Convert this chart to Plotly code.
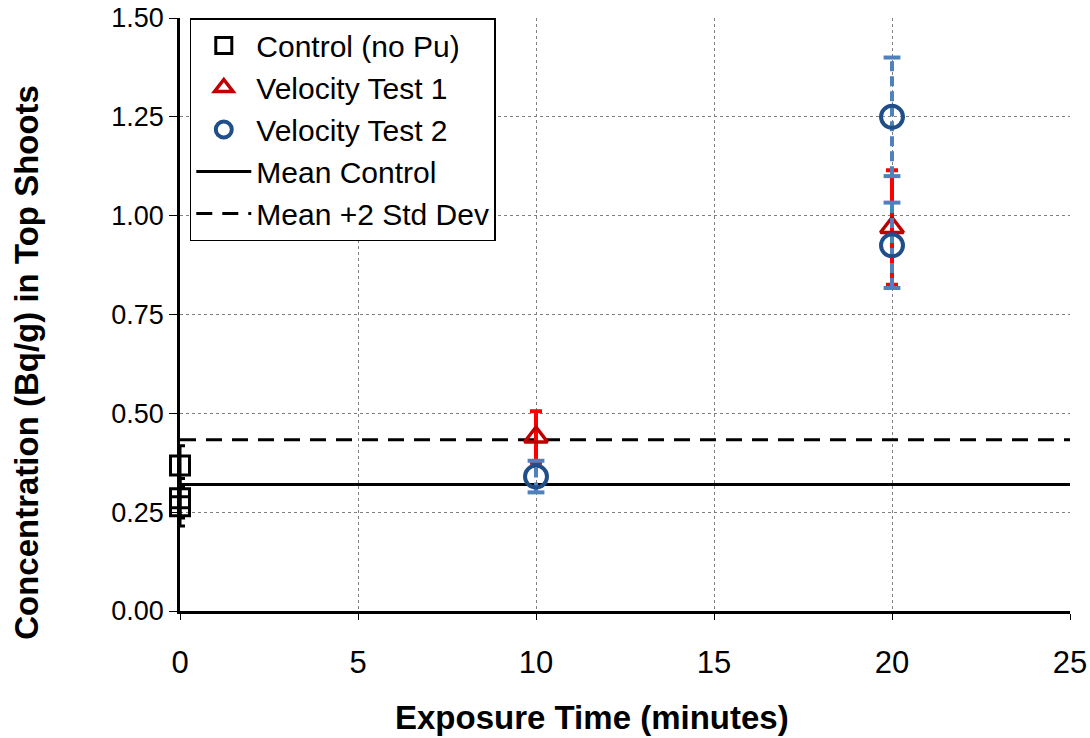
import plotly.graph_objects as go

# ---- data ----
control_x = [0, 0, 0]
control_y = [0.368, 0.285, 0.265]
control_err = [0.05, 0.05, 0.05]

vt1_x = [10, 20]
vt1_y = [0.44, 0.97]
vt1_err = [0.065, 0.145]

vt2_x = [10, 20, 20]
vt2_y = [0.34, 1.25, 0.925]
vt2_err = [0.04, 0.15, 0.108]

mean_control = 0.32
mean_plus_2sd = 0.433

x_range = [0, 25]
y_range = [0, 1.5]
x_ticks = [0, 5, 10, 15, 20, 25]
y_ticks = [0, 0.25, 0.5, 0.75, 1.0, 1.25, 1.5]

x_title = "Exposure Time (minutes)"
y_title = "Concentration (Bq/g) in Top Shoots"

FONT = "Liberation Sans, Arial, sans-serif"
BLUE_ERR = "#4F81BD"
BLUE_MK = "#1F4E89"
RED_ERR = "#FF0000"
RED_MK = "#C00000"

fig = go.Figure()

# mean lines (drawn first, under markers)
fig.add_trace(go.Scatter(
    x=x_range, y=[mean_control] * 2, mode="lines", name="Mean Control",
    line=dict(color="black", width=3), legendrank=4, legendgroup="g4",
    cliponaxis=False))
fig.add_trace(go.Scatter(
    x=x_range, y=[mean_plus_2sd] * 2, mode="lines", name="Mean +2 Std Dev",
    line=dict(color="black", width=3, dash="16px,10px"), legendrank=5,
    legendgroup="g5", cliponaxis=False))

# control
fig.add_trace(go.Scatter(
    x=control_x, y=control_y, mode="markers", name="Control (no Pu)",
    marker=dict(symbol="square-open", size=19, color="black",
                line=dict(width=3, color="black")),
    error_y=dict(type="data", array=control_err, visible=True,
                 color="black", thickness=3, width=5),
    legendrank=1, legendgroup="g1", cliponaxis=False))

# velocity test 1
fig.add_trace(go.Scatter(
    x=vt1_x, y=vt1_y, mode="markers", name="Velocity Test 1",
    marker=dict(symbol="triangle-up-open", size=20, color=RED_MK,
                line=dict(width=3.5, color=RED_MK)),
    error_y=dict(type="data", array=vt1_err, visible=True,
                 color=RED_ERR, thickness=4, width=6),
    legendrank=2, legendgroup="g2", cliponaxis=False))

# velocity test 2 error bars (dashed), built from data
ex, ey, cx, cy = [], [], [], []
for xv, yv, ev in zip(vt2_x, vt2_y, vt2_err):
    ex += [xv, xv, None]
    ey += [yv - ev, yv + ev, None]
    cx += [xv, xv]
    cy += [yv - ev, yv + ev]
fig.add_trace(go.Scatter(
    x=ex, y=ey, mode="lines", showlegend=False, hoverinfo="skip",
    line=dict(color=BLUE_ERR, width=4, dash="10px,5px"), cliponaxis=False))
fig.add_trace(go.Scatter(
    x=cx, y=cy, mode="markers", showlegend=False, hoverinfo="skip",
    marker=dict(symbol="line-ew-open", size=12, color=BLUE_ERR,
                line=dict(width=4, color=BLUE_ERR)), cliponaxis=False))

fig.add_trace(go.Scatter(
    x=vt2_x, y=vt2_y, mode="markers", name="Velocity Test 2",
    marker=dict(symbol="circle-open", size=22, color=BLUE_MK,
                line=dict(width=4, color=BLUE_MK)),
    legendrank=3, legendgroup="g3", cliponaxis=False))

fig.update_layout(
    width=1090, height=738,
    margin=dict(l=180, r=20, t=18, b=127),
    paper_bgcolor="white", plot_bgcolor="white",
    font=dict(family=FONT, color="black"),
    showlegend=True,
    legend=dict(
        x=0.011, y=1, xanchor="left", yanchor="top",
        bgcolor="white", bordercolor="black", borderwidth=1.5,
        font=dict(size=30, family=FONT, color="black"),
        traceorder="grouped", tracegroupgap=0, itemwidth=55,
    ),
    annotations=[
        dict(text="<b>" + x_title + "</b>", xref="paper", yref="paper",
             x=0.463, y=-0.180, xanchor="center", yanchor="middle",
             showarrow=False, font=dict(size=33, family=FONT, color="black")),
        dict(text="<b>" + y_title + "</b>", xref="paper", yref="paper",
             x=-0.172, y=0.42, xanchor="center", yanchor="middle",
             textangle=-90, showarrow=False,
             font=dict(size=33, family=FONT, color="black")),
    ],
)

fig.update_xaxes(
    range=x_range, tickvals=x_ticks, ticktext=[str(v) for v in x_ticks],
    showgrid=True, gridcolor="#808080", griddash="dot", gridwidth=1,
    showline=True, linecolor="black", linewidth=2.5,
    ticks="outside", ticklen=6, tickcolor="black", tickwidth=1,
    ticklabelstandoff=16, automargin=False,
    zeroline=False, tickfont=dict(size=31, family=FONT),
)
fig.update_yaxes(
    range=y_range, tickvals=y_ticks, tickformat=".2f", automargin=False,
    showgrid=True, gridcolor="#808080", griddash="dot", gridwidth=1,
    showline=True, linecolor="black", linewidth=2.5,
    ticks="outside", ticklen=8, tickcolor="black", tickwidth=1,
    zeroline=False, tickfont=dict(size=27, family=FONT),
)

fig.write_html("out.html")
